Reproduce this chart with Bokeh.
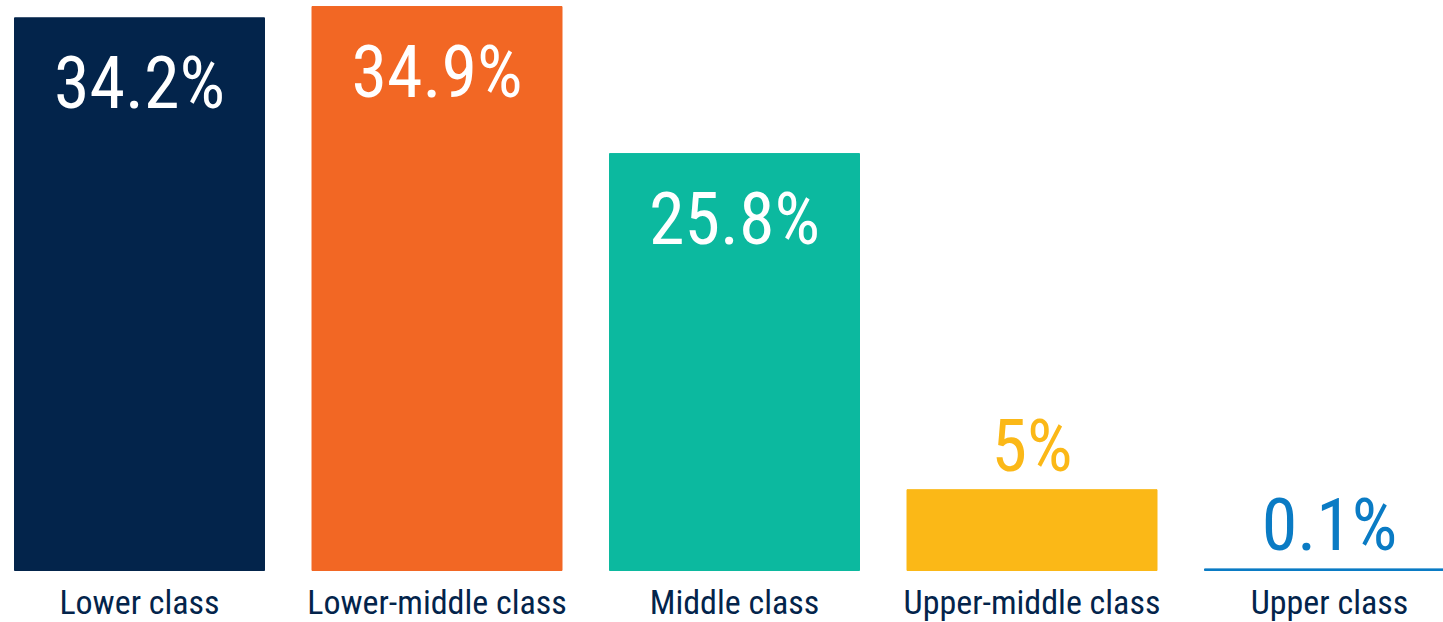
from bokeh.plotting import figure
from bokeh.models import ColumnDataSource, Range1d
from bokeh.core.properties import value
from bokeh.embed import file_html
from bokeh.resources import INLINE

categories = ["Lower class", "Lower-middle class", "Middle class", "Upper-middle class", "Upper class"]
shares = [34.2, 34.9, 25.8, 5.0, 0.1]
value_labels = ["34.2%", "34.9%", "25.8%", "5%", "0.1%"]
bar_colors = ["#03244B", "#F26724", "#0CB99F", "#FBB817", "#0A7BC4"]
label_colors = ["#FFFFFF", "#FFFFFF", "#FFFFFF", "#FBB817", "#0A7BC4"]
inside = [True, True, True, False, False]

W, H = 1443, 622
px_per_unit = 16.16
baseline_px = 570
step_px = 297.5
first_center_px = 139

x = list(range(len(categories)))
y_top = baseline_px / px_per_unit
y_bot = -(H - baseline_px) / px_per_unit

label_y = [v - 66 / px_per_unit if ins else v + 43 / px_per_unit for v, ins in zip(shares, inside)]
cat_y = [-(31 / px_per_unit)] * len(categories)

src = ColumnDataSource(dict(x=x, top=shares, color=bar_colors, lab=value_labels,
                            lab_y=label_y, lab_color=label_colors,
                            cat=categories, cat_y=cat_y))

p = figure(width=W, height=H, output_backend="svg", toolbar_location=None,
           x_range=Range1d(-first_center_px / step_px, (W - first_center_px) / step_px),
           y_range=Range1d(y_bot, y_top), min_border=0)
p.axis.visible = False
p.grid.visible = False
p.outline_line_color = None
p.background_fill_color = "white"

p.vbar(x="x", top="top", bottom=0, width=250 / step_px, color="color", source=src)
p.text(x="x", y="lab_y", text="lab", text_color="lab_color", source=src,
       text_align="center", text_baseline="alphabetic",
       text_font=value("Roboto Condensed, DejaVu Sans Condensed, Roboto, sans-serif"),
       text_font_size="72px")
p.text(x="x", y="cat_y", text="cat", text_color="#03244B", source=src,
       text_align="center", text_baseline="alphabetic",
       text_font=value("Roboto Condensed, DejaVu Sans Condensed, Roboto, sans-serif"),
       text_font_size="34px")

open("out.html", "w").write(file_html(p, INLINE))
